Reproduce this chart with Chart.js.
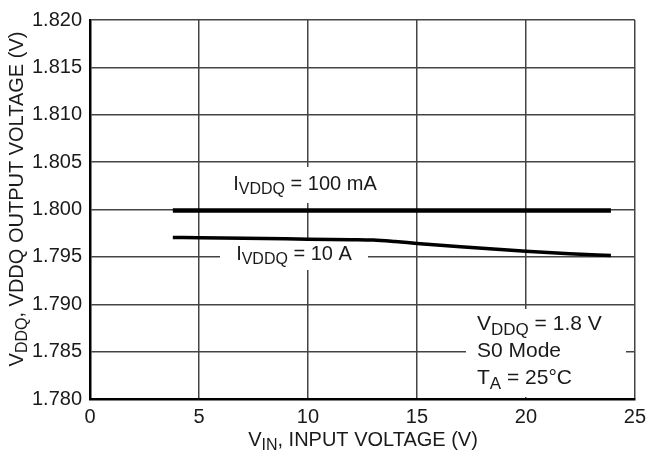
<!DOCTYPE html>
<html><head><meta charset="utf-8">
<script src="https://cdn.jsdelivr.net/npm/chart.js@4/dist/chart.umd.min.js"></script>
<style>html,body{margin:0;padding:0;background:#fff}#wrap{width:652px;height:465px}</style>
</head><body><div id="wrap"><canvas id="c" width="652" height="465"></canvas></div>
<script>
const upperX = [3.8, 23.9];
const upperY = [1.7999, 1.7999];
const lowerX = [3.8, 5, 8, 10, 12, 13, 14, 15, 17, 20, 22, 23.9];
const lowerY = [1.79705, 1.79702, 1.79695, 1.79686, 1.79682, 1.79678, 1.79662, 1.79642, 1.79606, 1.79560, 1.79534, 1.79514];
const xTicks = [0, 5, 10, 15, 20, 25];
const yTicks = [1.780, 1.785, 1.790, 1.795, 1.800, 1.805, 1.810, 1.815, 1.820];

const FONT = '"Liberation Sans", Arial, sans-serif';
function rich(ctx, parts, x, y, align, size) {
  const sub = Math.round(size * 0.82);
  let w = 0;
  parts.forEach(p => { ctx.font = (p.s ? sub : size) + 'px ' + FONT; p.w = ctx.measureText(p.t).width; w += p.w; });
  let cx = align === 'center' ? x - w / 2 : x;
  ctx.textBaseline = 'middle'; ctx.textAlign = 'left'; ctx.fillStyle = '#1a1a1a';
  parts.forEach(p => { ctx.font = (p.s ? sub : size) + 'px ' + FONT; ctx.fillText(p.t, cx, y + (p.s ? size * 0.3 : 0)); cx += p.w; });
  return w;
}
const labels = {
  id: 'labels',
  beforeDatasetsDraw(chart) {
    const ctx = chart.ctx; ctx.save();
    ctx.fillStyle = '#fff';
    ctx.fillRect(222, 167, 162, 36);
    ctx.fillRect(220, 240, 148, 30);
    ctx.fillRect(466, 309, 160, 88);
    rich(ctx, [{t:'I'},{t:'VDDQ',s:1},{t:' = 100 mA'}], 305, 184, 'center', 20);
    rich(ctx, [{t:'I'},{t:'VDDQ',s:1},{t:' = 10 A'}], 294, 254, 'center', 20);
    rich(ctx, [{t:'V'},{t:'DDQ',s:1},{t:' = 1.8 V'}], 477, 324, 'left', 21);
    rich(ctx, [{t:'S0 Mode'}], 477, 351, 'left', 21);
    rich(ctx, [{t:'T'},{t:'A',s:1},{t:' = 25°C'}], 477, 378, 'left', 21);
    ctx.restore();
  },
  afterDraw(chart) {
    const ctx = chart.ctx; ctx.save();
    rich(ctx, [{t:'V'},{t:'IN',s:1},{t:', INPUT VOLTAGE (V)'}], 363, 440, 'center', 20);
    ctx.translate(17, 199); ctx.rotate(-Math.PI / 2);
    rich(ctx, [{t:'V'},{t:'DDQ',s:1},{t:', VDDQ OUTPUT VOLTAGE (V)'}], 0, 0, 'center', 20);
    ctx.restore();
  }
};
new Chart(document.getElementById('c'), {
  type: 'scatter',
  data: { datasets: [
    { data: upperX.map((x, i) => ({x, y: upperY[i]})), showLine: true, borderColor: '#000', borderWidth: 4.5, pointRadius: 0, fill: false },
    { data: lowerX.map((x, i) => ({x, y: lowerY[i]})), showLine: true, borderColor: '#000', borderWidth: 3.5, pointRadius: 0, fill: false, cubicInterpolationMode: 'monotone' }
  ]},
  options: {
    responsive: false, animation: false, devicePixelRatio: 1,
    layout: { padding: { top: 15, right: 16, left: 0, bottom: 0 } },
    plugins: { legend: { display: false }, tooltip: { enabled: false } },
    scales: {
      x: { type: 'linear', min: 0, max: 25,
        afterBuildTicks: s => { s.ticks = xTicks.map(v => ({value: v})); },
        afterFit: s => { s.height = 66; },
        grid: { color: '#444', lineWidth: 1.5, drawTicks: false },
        border: { color: '#000', width: 2.5 },
        ticks: { padding: 6, color: '#1a1a1a', font: { family: FONT, size: 20 }, maxRotation: 0 } },
      y: { type: 'linear', min: 1.78, max: 1.82,
        afterBuildTicks: s => { s.ticks = yTicks.map(v => ({value: v})); },
        afterFit: s => { s.width = 90; },
        grid: { color: '#444', lineWidth: 1.5, drawTicks: false },
        border: { color: '#000', width: 2.5 },
        ticks: { padding: 8, color: '#1a1a1a', font: { family: FONT, size: 20 }, callback: v => v.toFixed(3) } }
    }
  },
  plugins: [labels]
});
</script></body></html>
